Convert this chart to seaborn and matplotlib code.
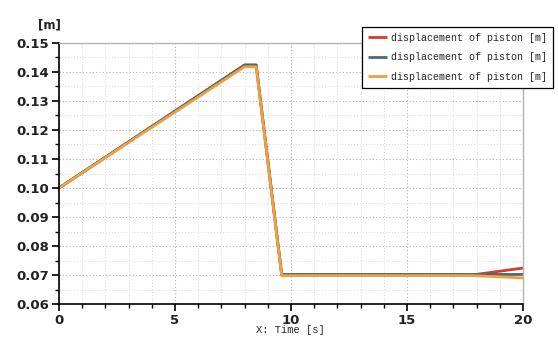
import numpy as np
import pandas as pd
import matplotlib
matplotlib.use("Agg")
import matplotlib.pyplot as plt
import seaborn as sns
from matplotlib.ticker import MultipleLocator

sns.set_style("white")

time_red = [0, 8.0, 8.5, 9.6, 17.8, 20]
disp_red = [0.100, 0.1424, 0.1424, 0.0700, 0.0700, 0.0724]
time_gray = [0, 8.0, 8.5, 9.6, 17.8, 20]
disp_gray = [0.100, 0.1424, 0.1424, 0.0702, 0.0702, 0.0702]
time_orange = [0, 8.0, 8.5, 9.6, 17.8, 20]
disp_orange = [0.100, 0.1418, 0.1418, 0.0698, 0.0698, 0.0690]
legend_label = "displacement of piston [m]"
colors = ["#d63a2b", "#4b6b74", "#f0a040"]

fig = plt.figure(figsize=(5.58, 3.45), dpi=100)
ax = fig.add_axes([0.1057, 0.1188, 0.8315, 0.7566])

for t, d, c in zip([time_red, time_gray, time_orange],
                   [disp_red, disp_gray, disp_orange], colors):
    df = pd.DataFrame({"t": t, "d": d})
    sns.lineplot(data=df, x="t", y="d", color=c, lw=2, ax=ax, label=legend_label,
                 solid_capstyle="butt")

ax.set_xlim(0, 20)
ax.set_ylim(0.06, 0.15)
ax.xaxis.set_major_locator(MultipleLocator(5))
ax.xaxis.set_minor_locator(MultipleLocator(1))
ax.yaxis.set_major_locator(MultipleLocator(0.01))
ax.yaxis.set_minor_locator(MultipleLocator(0.005))
ax.set_yticklabels([f"{v:.2f}" for v in ax.get_yticks()])
ax.set_xlabel("")
ax.set_ylabel("")

ax.grid(which="major", color="#b0b0b0", linestyle=(0, (1, 2)), lw=0.8)
ax.grid(which="minor", color="#d8d8d8", linestyle=(0, (1, 2)), lw=0.7)
ax.set_axisbelow(True)

for s in ["left", "bottom"]:
    ax.spines[s].set_color("black")
    ax.spines[s].set_linewidth(1.2)
for s in ["top", "right"]:
    ax.spines[s].set_color("#b4b4b4")
    ax.spines[s].set_linewidth(1.0)

ax.tick_params(which="major", direction="out", length=5, width=1.2, color="black",
               left=True, bottom=True, labelsize=9.5, pad=2)
ax.tick_params(which="minor", direction="out", length=3, width=1.0, color="black",
               left=True, bottom=True)
for lab in ax.get_xticklabels() + ax.get_yticklabels():
    lab.set_fontweight("bold")
    lab.set_color("#222222")

fig.text(0.088, 0.928, "[m]", fontsize=8.5, fontweight="bold", ha="center", va="center",
         color="#222222")
fig.text(0.52, 0.043, "X: Time [s]", fontsize=7.5, family="Liberation Mono",
         ha="center", va="center")

leg = ax.legend(loc="upper right", bbox_to_anchor=(0.991, 0.922),
                bbox_transform=fig.transFigure, frameon=True, fancybox=False,
                edgecolor="black", framealpha=1, handlelength=1.9, handletextpad=0.4,
                borderpad=0.6, labelspacing=0.95, borderaxespad=0,
                prop={"family": "Liberation Mono", "size": 7.2})
leg.get_frame().set_linewidth(0.9)

fig.savefig("out.png", dpi=100)
